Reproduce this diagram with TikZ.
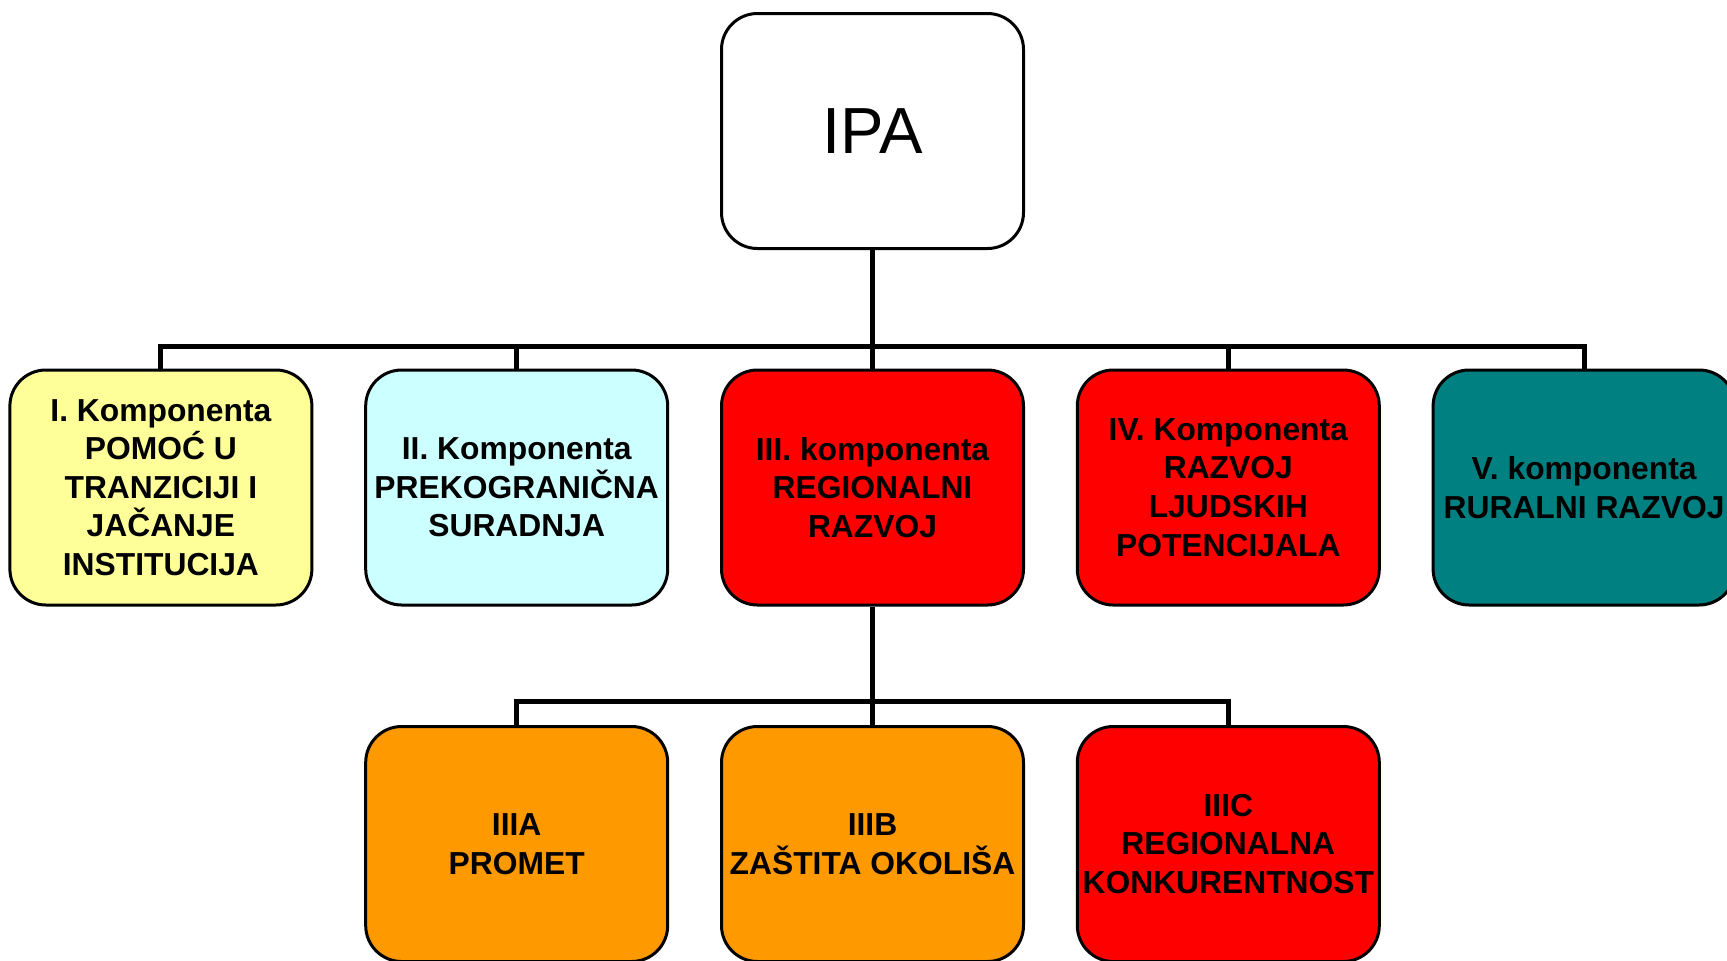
\documentclass[tikz,border=0pt]{standalone}
\usepackage{fontspec}
\setmainfont{Liberation Sans}
\usepackage{tikz}
\usetikzlibrary{shapes}

\definecolor{kyellow}{HTML}{FFFF99}
\definecolor{kcyan}{HTML}{CCFFFF}
\definecolor{kred}{HTML}{FF0000}
\definecolor{kteal}{HTML}{008080}
\definecolor{korange}{HTML}{FF9900}

\tikzset{
  box/.style={draw, line width=1.5pt, rounded corners=18pt, minimum width=151pt,
    minimum height=117.5pt, align=center, inner sep=0pt},
  komp/.style={box, font=\bfseries\fontsize{15.9}{19.3}\selectfont},
  bus/.style={line width=2.5pt}
}

\begin{document}
\begin{tikzpicture}[scale=1]

  \newcommand\X{177.9pt}
  \newcommand\Y{178.25pt}

  \useasboundingbox (-436.25pt, 65.5pt) rectangle (427.25pt, -414.5pt);

  \node[box, fill=white, font=\fontsize{32.6}{39}\selectfont] (ipa) at (0, 0) {IPA};

  \node[komp, fill=kyellow] (k1) at (-2*\X, -\Y) {I. Komponenta\\POMOĆ U\\TRANZICIJI I\\JAČANJE\\INSTITUCIJA};
  \node[komp, fill=kcyan]   (k2) at (-1*\X, -\Y) {II. Komponenta\\PREKOGRANIČNA\\SURADNJA};
  \node[komp, fill=kred]    (k3) at ( 0*\X, -\Y) {III. komponenta\\REGIONALNI\\RAZVOJ};
  \node[komp, fill=kred]    (k4) at ( 1*\X, -\Y) {IV. Komponenta\\RAZVOJ\\LJUDSKIH\\POTENCIJALA};
  \node[komp, fill=kteal]   (k5) at ( 2*\X, -\Y) {V. komponenta\\RURALNI RAZVOJ};

  \node[komp, fill=korange] (k3a) at (-1*\X, -2*\Y) {IIIA\\PROMET};
  \node[komp, fill=korange] (k3b) at ( 0*\X, -2*\Y) {IIIB\\ZAŠTITA OKOLIŠA};
  \node[komp, fill=kred]    (k3c) at ( 1*\X, -2*\Y) {IIIC\\REGIONALNA\\KONKURENTNOST};

  %% IPA -> komponente
  \draw[bus] (ipa.south) -- ++(0,-48pt) coordinate (b1);
  \foreach \n in {k1,k2,k3,k4,k5}
    \draw[bus] (b1) -| (\n.north);

  %% III -> IIIA, IIIB, IIIC
  \draw[bus] (k3.south) -- ++(0,-47.5pt) coordinate (b2);
  \foreach \n in {k3a,k3b,k3c}
    \draw[bus] (b2) -| (\n.north);

\end{tikzpicture}
\end{document}
